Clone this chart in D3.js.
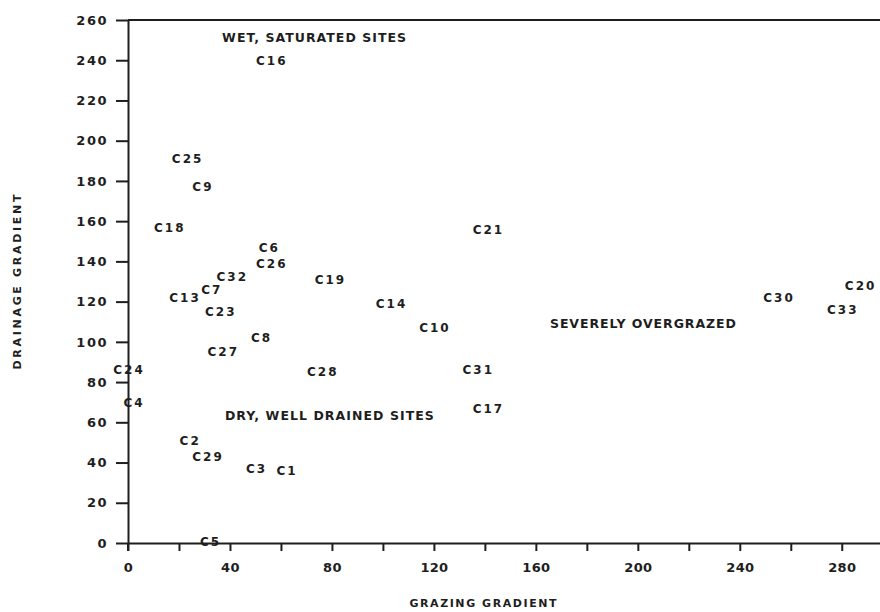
<!DOCTYPE html>
<html>
<head>
<meta charset="utf-8">
<script src="https://cdn.jsdelivr.net/npm/d3@7"></script>
<style>
  html, body { margin: 0; padding: 0; background: #fff; }
  svg { display: block; }
  text { font-family: "DejaVu Sans", "Liberation Sans", Arial, sans-serif; font-weight: bold; fill: #1e1e1e; }
</style>
</head>
<body>
<svg id="chart" width="880" height="612"></svg>
<script>
// Site ordination: grazing gradient vs drainage gradient
const sites    = ["C16","C25","C9","C18","C6","C26","C32","C7","C13","C19","C21","C14","C23","C10","C8","C27","C24","C28","C31","C4","C17","C2","C29","C3","C1","C5","C30","C20","C33"];
const grazing  = [56, 23, 29, 16, 55, 56, 40.5, 32.5, 22, 79, 141, 103, 36, 120, 52, 37, 0, 76, 137, 2, 141, 24, 31, 50, 62, 32, 255, 287, 280];
const drainage = [240, 191, 177, 157, 147, 139, 132.5, 126, 122, 131, 156, 119, 115, 107, 102, 95, 86, 85, 86, 70, 67, 51, 43, 37, 36, 0.5, 122, 128, 116];

const zoneNames = ["WET, SATURATED SITES", "DRY, WELL DRAINED SITES", "SEVERELY OVERGRAZED"];
const zoneX     = [73, 79, 202];
const zoneY     = [251.5, 63.5, 109];
const zoneWidth = [184, 209, 186];

const xTicks = [0, 20, 40, 60, 80, 100, 120, 140, 160, 180, 200, 220, 240, 260, 280];
const xTickLabels = [0, 40, 80, 120, 160, 200, 240, 280];
const yTicks = [0, 20, 40, 60, 80, 100, 120, 140, 160, 180, 200, 220, 240, 260];

const svg = d3.select("#chart");

const x = d3.scaleLinear().domain([0, 295]).range([128, 880]);
const y = d3.scaleLinear().domain([0, 260]).range([543, 20]);

// frame line along the top
svg.append("line")
  .attr("x1", x(0)).attr("x2", x(295))
  .attr("y1", y(260)).attr("y2", y(260))
  .attr("stroke", "#1e1e1e").attr("stroke-width", 2);

// x axis: ticks every 20, labels every 40
const xAxis = d3.axisBottom(x)
  .tickValues(xTicks)
  .tickSize(8)
  .tickSizeOuter(0)
  .tickPadding(12)
  .tickFormat(d => xTickLabels.includes(d) ? d : "");
const gx = svg.append("g").attr("transform", `translate(0,${y(0)})`).call(xAxis);

// y axis
const yAxis = d3.axisLeft(y)
  .tickValues(yTicks)
  .tickSize(12)
  .tickSizeOuter(0)
  .tickPadding(8);
const gy = svg.append("g").attr("transform", `translate(${x(0)},0)`).call(yAxis);

[gx, gy].forEach(g => {
  g.selectAll(".domain").attr("stroke", "#1e1e1e").attr("stroke-width", 2);
  g.selectAll(".tick line").attr("stroke", "#1e1e1e").attr("stroke-width", 2);
  g.selectAll(".tick text")
    .attr("fill", "#1e1e1e")
    .style("font-size", "13px")
    .style("font-family", "'DejaVu Sans', Arial, sans-serif")
    .style("font-weight", "bold");
});
gy.selectAll(".tick text").style("letter-spacing", "1.5px");
gx.selectAll(".tick text").style("letter-spacing", "0.3px");

// let the y axis run down to the bottom of the x ticks
gy.append("line")
  .attr("x1", 0).attr("x2", 0)
  .attr("y1", y(0)).attr("y2", y(0) + 8)
  .attr("stroke", "#1e1e1e").attr("stroke-width", 2);

// site labels, centred on each site's scores
svg.append("g").selectAll("text")
  .data(sites)
  .join("text")
  .attr("x", (d, i) => x(grazing[i]) + 1)
  .attr("y", (d, i) => y(drainage[i]))
  .attr("text-anchor", "middle")
  .attr("dy", "0.36em")
  .style("font-size", "12px")
  .style("letter-spacing", "2px")
  .text(d => d);

// zone annotations
svg.append("g").selectAll("text")
  .data(zoneNames)
  .join("text")
  .attr("x", (d, i) => x(zoneX[i]))
  .attr("y", (d, i) => y(zoneY[i]))
  .attr("text-anchor", "middle")
  .attr("dy", "0.36em")
  .attr("textLength", (d, i) => zoneWidth[i])
  .attr("lengthAdjust", "spacing")
  .style("font-size", "12.5px")
  .text(d => d);

// axis titles
svg.append("text")
  .attr("x", 483).attr("y", 603)
  .attr("text-anchor", "middle")
  .attr("dy", "0.36em")
  .attr("textLength", 147)
  .attr("lengthAdjust", "spacing")
  .style("font-size", "11px")
  .text("GRAZING GRADIENT");

svg.append("text")
  .attr("transform", "translate(17,282) rotate(-90)")
  .attr("text-anchor", "middle")
  .attr("dy", "0.36em")
  .attr("textLength", 175)
  .attr("lengthAdjust", "spacing")
  .style("font-size", "11px")
  .text("DRAINAGE GRADIENT");
</script>
</body>
</html>
